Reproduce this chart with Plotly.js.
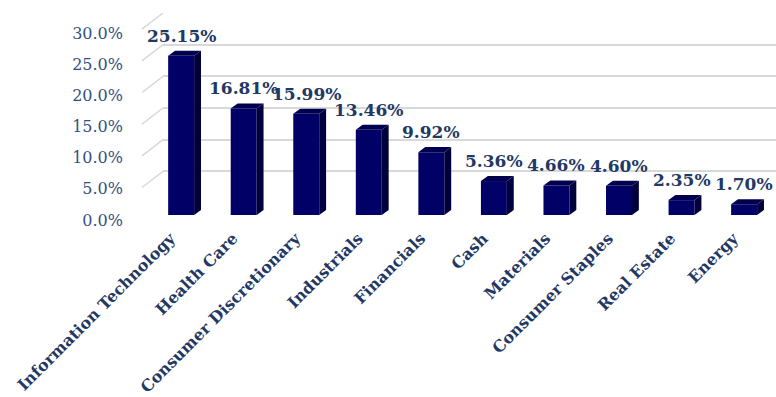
<!DOCTYPE html>
<html>
<head>
<meta charset="utf-8">
<script src="https://cdn.plot.ly/plotly-3.0.1.min.js"></script>
<style>html,body{margin:0;padding:0;background:#fff;}#chart{width:776px;height:397px;}</style>
</head>
<body>
<div id="chart"></div>
<script>
// ---- data ----
const categories = ["Information Technology","Health Care","Consumer Discretionary","Industrials","Financials","Cash","Materials","Consumer Staples","Real Estate","Energy"];
const values = [25.15, 16.81, 15.99, 13.46, 9.92, 5.36, 4.66, 4.60, 2.35, 1.70];
const valueLabels = ["25.15%","16.81%","15.99%","13.46%","9.92%","5.36%","4.66%","4.60%","2.35%","1.70%"];
const yTickVals = [0, 5, 10, 15, 20, 25, 30];

// ---- style / geometry ----
const W = 776, H = 397;
const frontColor = "#000066", sideColor = "#00003c", topColor = "#00004e";
const textColor = "#1F3864";
const barW = 0.415;          // bar width in category units
const dx = 0.11;             // 3D depth horizontal (category units)
const dy = 0.8;              // 3D depth vertical (% units)
const labelShift = 0.17;     // category label offset (category units)
const py = p => 1 - p / H;   // pixel row -> paper fraction
const xRange = [-0.29, 9.51];

const idx = categories.map((_, i) => i);

const shapes = [];
// 3D side and top faces, computed from data
values.forEach((v, i) => {
  const r = i + barW / 2, l = i - barW / 2;
  shapes.push({type:"path", xref:"x", yref:"y2", layer:"above", line:{width:0}, fillcolor:sideColor,
    path:`M ${r} 0 L ${r+dx} ${dy} L ${r+dx} ${v+dy} L ${r} ${v} Z`});
  shapes.push({type:"path", xref:"x", yref:"y2", layer:"above", line:{width:0}, fillcolor:topColor,
    path:`M ${l} ${v} L ${r} ${v} L ${r+dx} ${v+dy} L ${l+dx} ${v+dy} Z`});
});
// diagonal floor/wall lines at left of gridlines
yTickVals.forEach(t => {
  shapes.push({type:"line", xref:"paper", yref:"y", layer:"below",
    x0: 142 / W, x1: 163 / W, y0: t - 2.55, y1: t, line:{color:"#d9d9d9", width:1.5}});
});

const annotations = values.map((v, i) => ({
  x: i, y: v + dy, xref: "x", yref: "y2", text: valueLabels[i], showarrow: false,
  yanchor: "bottom", yshift: 3,
  font: {family: "DejaVu Serif", size: 17, color: textColor, weight: "bold"}
}));

const traces = [
  // invisible trace for the gridline (back wall) subplot, drawn first
  {type:"scatter", x:[0], y:[0], mode:"markers", marker:{opacity:0}, xaxis:"x", yaxis:"y", showlegend:false, hoverinfo:"skip"},
  {type:"bar", x: idx, y: values, width: barW, marker:{color: frontColor, line:{width:0}},
   hoverinfo:"skip", xaxis:"x", yaxis:"y2", showlegend:false},
  {type:"scatter", x:[0], y:[0], mode:"markers", marker:{opacity:0}, xaxis:"x", yaxis:"y3", showlegend:false, hoverinfo:"skip"},
  {type:"scatter", x:[0], y:[0], mode:"markers", marker:{opacity:0}, xaxis:"x2", yaxis:"y2", showlegend:false, hoverinfo:"skip"}
];

const layout = {
  width: W, height: H,
  margin: {l:0, r:0, t:0, b:0},
  paper_bgcolor: "#fff", plot_bgcolor: "rgba(0,0,0,0)",
  showlegend: false,
  xaxis: {domain:[163 / W, 1], range: xRange, showticklabels:false,
    showgrid:false, zeroline:false, showline:false, ticks:"", automargin:false, anchor:"y2"},
  xaxis2: {domain:[163 / W, 1], range:[xRange[0] + labelShift, xRange[1] + labelShift],
    overlaying:"x", anchor:"y2", side:"bottom", tickvals: idx, ticktext: categories,
    tickangle: -45, showgrid:false, zeroline:false, showline:false, ticks:"",
    ticklabelstandoff: 10, automargin:false,
    tickfont:{family:"DejaVu Serif", size:16, color:textColor, weight:"bold"}},
  yaxis: {domain:[py(203), py(13)], range:[0, 30], anchor:"x", tickvals: yTickVals,
    showgrid:true, gridcolor:"#d9d9d9", gridwidth:2, zeroline:false, showticklabels:false,
    ticks:"", automargin:false},
  yaxis2: {domain:[py(215), py(25)], range:[0, 30], showgrid:false, zeroline:false,
    showticklabels:false, ticks:"", automargin:false, anchor:"x"},
  yaxis3: {domain:[py(220), py(33)], range:[0, 30], anchor:"free", position: 123 / W,
    tickvals: yTickVals, ticktext: yTickVals.map(t => t.toFixed(1) + "%"),
    showgrid:false, zeroline:false, ticks:"", automargin:false,
    tickfont:{family:"DejaVu Serif", size:16, color:"#34507e"}},
  shapes: shapes,
  annotations: annotations
};

Plotly.newPlot("chart", traces, layout, {staticPlot:true});
</script>
</body>
</html>
